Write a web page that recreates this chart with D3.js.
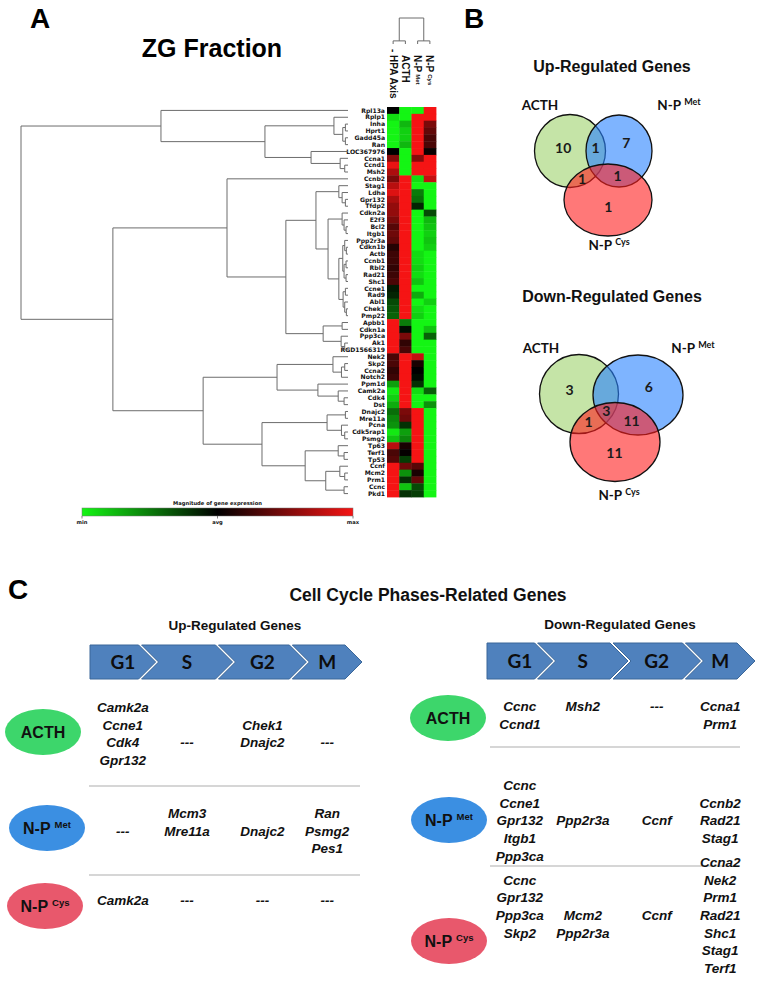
<!DOCTYPE html>
<html><head><meta charset="utf-8">
<script src="https://cdn.jsdelivr.net/npm/d3@7"></script>
<style>html,body{margin:0;padding:0;background:#fff;}svg{display:block;}</style>
</head><body>
<script>
// ---------------- DATA ----------------
const genes = ["Rpl13a","Rplp1","Inha","Hprt1","Gadd45a","Ran","LOC367976","Ccna1","Ccnd1","Msh2",
"Ccnb2","Stag1","Ldha","Gpr132","Tfdp2","Cdkn2a","E2f3","Bcl2","Itgb1","Ppp2r3a",
"Cdkn1b","Actb","Ccnb1","Rbl2","Rad21","Shc1","Ccne1","Rad9","Abl1","Chek1",
"Pmp22","Apbb1","Cdkn1a","Ppp3ca","Ak1","RGD1566319","Nek2","Skp2","Ccna2","Notch2",
"Ppm1d","Camk2a","Cdk4","Dst","Dnajc2","Mre11a","Pcna","Cdk5rap1","Psmg2","Tp63",
"Terf1","Tp53","Ccnf","Mcm2","Prm1","Ccnc","Pkd1"];
const conditions = ["- HPA Axis","ACTH","N-P Met","N-P Cys"];
// relative expression (-1 = min, 0 = avg, 1 = max)
const exprHPA = [0,-0.9,-1,-1,-1,-1,0,0.55,0.95,0.7,
0.5,0.75,0.9,0.7,0.6,0.6,0.5,0.35,0.45,0.4,
0.15,0.25,0.25,0.2,0.25,0.3,-0.1,-0.15,-0.3,-0.35,
-0.4,1,1,1,1,1,0.3,0.3,0.2,0.25,
-0.65,-0.95,-0.85,-0.7,-0.45,-0.55,-0.6,-0.95,-0.8,0.75,
0.3,0.35,1,1,1,1,1];
const exprACTH = [-1,-1,-0.75,-0.85,-0.85,-0.75,-1,-1,-1,-1,
1,1,1,1,1,1,1,1,1,1,
1,1,1,1,1,1,1,1,1,1,
1,-0.5,-0.05,0.5,0.2,0.3,1,1,1,1,
1,1,1,1,0.5,0.45,-0.2,-0.65,-0.55,0.1,
0.02,-0.25,0.45,-0.6,-0.2,-0.8,-0.2];
const exprMet = [-1,1,1,1,1,1,1,0.55,1,1,
-0.9,-1,-0.5,-0.45,-0.15,-1,-1,-1,-1,-1,
-1,-0.9,-0.9,-0.85,-0.9,-0.8,-1,-0.7,-1,-0.9,
-0.85,-1,-1,-1,-1,-1,0.8,0.1,0,-0.05,
-0.2,-0.9,-1,-1,1,1,1,1,1,1,
1,1,0.35,0.1,0.4,-0.3,-0.25];
const exprCys = [1,1,0.5,0.4,0.3,0.3,0.05,1,1,1,
0.8,-1,-1,-1,-1,-0.3,-0.75,-0.8,-0.85,-0.8,
-0.85,-1,-1,-1,-1,-1,-1,-1,-0.85,-1,
-1,-1,-0.8,-0.4,-1,-1,-1,-1,-1,-1,
-1,-0.4,-1,-0.6,-1,-1,-1,-1,-1,-1,
-1,-1,-1,-1,-1,-1,-1];
// hierarchical clustering of genes: [mergeHeight, left, right]; leaves are row indices
const rowTree =
[1.000,
  [0.572, 0,
    [0.254,
      [0.043, 1, [0.016, [0.008, 2, 3], [0.008, 4, 5]]],
      [0.113, 6, [0.024, 7, [0.010, 8, 9]]]]],
  [0.719,
    [0.370, 10,
      [0.190,
        [0.098,
          [0.028, 11, [0.018, 12, [0.008, 13, 14]]],
          [0.061,
            [0.018, 15, [0.012, 16, [0.006, 17, 18]]],
            [0.028,
              [0.016, [0.010, 19, [0.005, 20, 21]], [0.012, [0.006, 22, 23], [0.006, 24, 25]]],
              [0.015, [0.008, 26, 27], [0.010, 28, [0.005, 29, 30]]]]]],
        [0.076, [0.018, 31, 32], [0.021, 33, [0.010, 34, 35]]]]],
    [0.443,
      [0.217,
        [0.046, 36, [0.020, [0.010, 37, 38], 39]],
        [0.092, 40, [0.030, 41, [0.012, 42, 43]]]],
      [0.263,
        [0.064, [0.008, 44, 45], [0.020, 46, [0.010, 47, 48]]],
        [0.131,
          [0.030, 49, [0.012, 50, 51]],
          [0.068, [0.025, 52, [0.010, 53, 54]], [0.012, 55, 56]]]]]]];
const colTree = [1, [0.12, 0, 1], [0.12, 2, 3]];
const colorbarLabels = ["min","avg","max"];
const colorbarValues = [-1, 0, 1];

const vennSets = ["ACTH","N-P Met","N-P Cys"];
const vennRegions = ["A","M","C","AM","AC","MC","AMC"];
const vennUpCounts = [10, 7, 1, 1, 1, 1, null];
const vennDownCounts = [3, 6, 11, null, 1, 11, 3];

const phases = ["G1","S","G2","M"];
const groups = ["ACTH","N-P Met","N-P Cys"];
const upGenes = [
  [["Camk2a","Ccne1","Cdk4","Gpr132"], [], ["Chek1","Dnajc2"], []],
  [[], ["Mcm3","Mre11a"], ["Dnajc2"], ["Ran","Psmg2","Pes1"]],
  [["Camk2a"], [], [], []]];
const downGenes = [
  [["Ccnc","Ccnd1"], ["Msh2"], [], ["Ccna1","Prm1"]],
  [["Ccnc","Ccne1","Gpr132","Itgb1","Ppp3ca"], ["Ppp2r3a"], ["Ccnf"], ["Ccnb2","Rad21","Stag1"]],
  [["Ccnc","Gpr132","Ppp3ca","Skp2"], ["Mcm2","Ppp2r3a"], ["Ccnf"], ["Ccna2","Nek2","Prm1","Rad21","Shc1","Stag1","Terf1"]]];

// ---------------- DRAWING ----------------
const ARIAL = "'Liberation Sans', Arial, sans-serif";
const CAL = "Lato, 'Open Sans', sans-serif";
const svg = d3.select("body").append("svg").attr("width",757).attr("height",995);

function bold(sel, size, family){ return sel.attr("font-family", family||ARIAL).attr("font-weight","bold").attr("font-size", size); }
function labelText(sel, label, supSize, raise, gap){
  const m = label.match(/^(N-P) (Met|Cys)$/);
  if(m){ sel.append("tspan").text(m[1]);
         sel.append("tspan").attr("dx", gap).attr("dy", -raise).attr("font-size", supSize).text(m[2]); }
  else sel.text(label);
  return sel;
}

// panel letters
[["A",30,28],["B",464,28],["C",8,599]].forEach(([t,x,y]) =>
  bold(svg.append("text").attr("x",x).attr("y",y).text(t), 28));

// ---- Panel A ----
bold(svg.append("text").attr("x",212).attr("y",57).attr("text-anchor","middle").text("ZG Fraction"), 25);

const exprCols = [exprHPA, exprACTH, exprMet, exprCys];
const xCol = d3.scaleBand().domain(d3.range(conditions.length)).range([387, 436]);
const yRow = d3.scaleBand().domain(d3.range(genes.length)).range([107, 497]);
const heatColor = d3.scaleLinear().domain([-1,0,1]).range(["#14f514","#000000","#f51414"]).clamp(true);

const hm = svg.append("g");
exprCols.forEach((col, c) => {
  hm.selectAll(null).data(col).join("rect")
    .attr("x", xCol(c)).attr("y", (d,i) => yRow(i))
    .attr("width", xCol.bandwidth()+0.4).attr("height", yRow.bandwidth()+0.4)
    .attr("fill", d => heatColor(d));
});

svg.append("g").selectAll("text").data(genes).join("text")
  .attr("x", 385).attr("y", (d,i) => yRow(i) + yRow.bandwidth()/2).attr("dy","0.36em")
  .attr("text-anchor","end").attr("font-family","'DejaVu Sans', sans-serif").attr("font-weight","bold")
  .attr("font-size", 6.1).attr("fill","#111").text(d => d);

// row dendrogram
const hx = d3.scaleLinear().domain([0,1]).range([348, 21]);
function buildRow(n){
  if(typeof n === "number") return {h:0, y: yRow(n) + yRow.bandwidth()/2};
  const a = buildRow(n[1]), b = buildRow(n[2]);
  return {h:n[0], y:(a.y+b.y)/2, kids:[a,b]};
}
const rsegs = [];
(function walk(n){
  if(!n.kids) return;
  const x0 = hx(n.h);
  rsegs.push(`M${x0},${n.kids[0].y}V${n.kids[1].y}`);
  n.kids.forEach(k => { rsegs.push(`M${x0},${k.y}H${hx(k.h)}`); walk(k); });
})(buildRow(rowTree));
svg.append("path").attr("d", rsegs.join("")).attr("fill","none").attr("stroke","#6c6c6c").attr("stroke-width",1);

// column dendrogram
const hy = d3.scaleLinear().domain([0,1]).range([44, 18]);
function buildCol(n){
  if(typeof n === "number") return {h:0, x: xCol(n) + xCol.bandwidth()/2};
  const a = buildCol(n[1]), b = buildCol(n[2]);
  return {h:n[0], x:(a.x+b.x)/2, kids:[a,b]};
}
const csegs = [];
(function walk(n){
  if(!n.kids) return;
  const y0 = hy(n.h);
  csegs.push(`M${n.kids[0].x},${y0}H${n.kids[1].x}`);
  n.kids.forEach(k => { csegs.push(`M${k.x},${y0}V${hy(k.h)}`); walk(k); });
})(buildCol(colTree));
svg.append("path").attr("d", csegs.join("")).attr("fill","none").attr("stroke","#6c6c6c").attr("stroke-width",1);

// column headers (vertical)
conditions.forEach((c, i) => {
  const cx = xCol(i) + xCol.bandwidth()/2;
  const t = bold(svg.append("text").attr("transform", `translate(${cx-3.6},55) rotate(90)`), 10).attr("fill","#111");
  labelText(t, c, 6, 1.5, 2);
  if(c.startsWith("- ")) t.attr("x", -t.node().getSubStringLength(0,2));
});

// colour bar
const cb = d3.scaleLinear().domain([-1,1]).range([82, 353]);
const grad = svg.append("defs").append("linearGradient").attr("id","hmgrad");
colorbarValues.forEach(v => grad.append("stop").attr("offset", (v+1)/2).attr("stop-color", heatColor(v)));
svg.append("rect").attr("x", cb(-1)).attr("y", 508).attr("width", cb(1)-cb(-1)).attr("height", 8)
  .attr("fill","url(#hmgrad)").attr("stroke","#777").attr("stroke-width",0.5);
bold(svg.append("text").attr("x", cb(0)).attr("y", 505).attr("text-anchor","middle").text("Magnitude of gene expression"), 5.2, "'DejaVu Sans', sans-serif").attr("fill","#111");
colorbarValues.forEach((v, i) => {
  svg.append("line").attr("x1", cb(v)).attr("x2", cb(v)).attr("y1", 516).attr("y2", 518.5).attr("stroke","#333").attr("stroke-width",0.6);
  bold(svg.append("text").attr("x", cb(v)).attr("y", 524).attr("text-anchor","middle").text(colorbarLabels[i]), 5.2, "'DejaVu Sans', sans-serif").attr("fill","#111");
});

// ---- Panel B : Venn diagrams ----
const vennFill = [["rgb(150,205,95)",0.55],["rgb(40,130,255)",0.6],["rgb(255,30,30)",0.6]];
function drawVenn(title, titleY, ells, counts, labelPos){
  bold(svg.append("text").attr("x",612).attr("y",titleY).attr("text-anchor","middle").text(title), 16).attr("fill","#111");
  ells.forEach((e, i) => svg.append("ellipse").attr("cx",e[0]).attr("cy",e[1]).attr("rx",e[2]).attr("ry",e[3])
     .attr("fill", vennFill[i][0]).attr("fill-opacity", vennFill[i][1]).attr("stroke","#111").attr("stroke-width",1.3));
  // region centroids from geometry
  const keys = ["A","M","C"], acc = {};
  const x0 = d3.min(ells, e => e[0]-e[2]), x1 = d3.max(ells, e => e[0]+e[2]);
  const y0 = d3.min(ells, e => e[1]-e[3]), y1 = d3.max(ells, e => e[1]+e[3]);
  for(let x = x0; x <= x1; x += 0.5) for(let y = y0; y <= y1; y += 0.5){
    let k = "";
    ells.forEach((e, i) => { if(((x-e[0])/e[2])**2 + ((y-e[1])/e[3])**2 <= 1) k += keys[i]; });
    if(!k) continue;
    acc[k] = acc[k] || [0,0,0]; acc[k][0]+=x; acc[k][1]+=y; acc[k][2]++;
  }
  vennRegions.forEach((r, i) => {
    if(counts[i] == null || !acc[r]) return;
    bold(svg.append("text").attr("x", acc[r][0]/acc[r][2]).attr("y", acc[r][1]/acc[r][2]).attr("dy","0.36em")
      .attr("text-anchor","middle").text(counts[i]), 14, CAL).attr("fill","#1a1a1a");
  });
  vennSets.forEach((s, i) => {
    const t = bold(svg.append("text").attr("x", labelPos[i][0]).attr("y", labelPos[i][1]).attr("text-anchor","middle"), 13.5, CAL).attr("fill","#111");
    labelText(t, s, 9, 5, 3);
  });
}
drawVenn("Up-Regulated Genes", 72,
  [[570,151,35.5,36.5],[619,151,33,36],[608,200,44,36]], vennUpCounts,
  [[540,110],[679,110],[609,250]]);
drawVenn("Down-Regulated Genes", 302,
  [[579,394,39.5,39.5],[638,395,45,40],[615,442,45,39.5]], vennDownCounts,
  [[541,353],[693,353],[619,500]]);

// ---- Panel C ----
bold(svg.append("text").attr("x",428).attr("y",601).attr("text-anchor","middle").text("Cell Cycle Phases-Related Genes"), 17.5).attr("fill","#111");

const ovalFill = ["#3dd66b","#3b8fe2","#e8586c"];
const chevRel = [48, 73, 70, 52];
function drawTable(cfg){
  bold(svg.append("text").attr("x",cfg.titleX).attr("y",cfg.titleY).attr("text-anchor","middle").text(cfg.title), 13.5).attr("fill","#111");
  const d = (cfg.cy1 - cfg.cy0)/2, g = 3, mid = (cfg.cy0+cfg.cy1)/2;
  const k = (cfg.x1 - cfg.x0 - 3*g - d) / d3.sum(chevRel);
  let xs = cfg.x0; const centers = [];
  phases.forEach((p, i) => {
    const w = chevRel[i]*k;
    const pts = [[xs,cfg.cy0],[xs+w,cfg.cy0],[xs+w+d,mid],[xs+w,cfg.cy1],[xs,cfg.cy1]];
    if(i > 0) pts.push([xs+d,mid]);
    svg.append("polygon").attr("points", pts.map(q => q.join(",")).join(" "))
      .attr("fill","#4f81bd").attr("stroke","#3b6799").attr("stroke-width",1);
    const c = xs + (w+d)/2; centers.push(c);
    bold(svg.append("text").attr("x", c).attr("y", mid).attr("dy","0.36em").attr("text-anchor","middle").text(p), 19, CAL).attr("fill","#0d0d0d");
    xs += w + g;
  });
  cfg.seps.forEach(y => svg.append("line").attr("x1",cfg.sepX[0]).attr("x2",cfg.sepX[1]).attr("y1",y).attr("y2",y)
      .attr("stroke","#c8c8c8").attr("stroke-width",1.5));
  groups.forEach((gname, r) => {
    const o = cfg.ovals[r];
    svg.append("ellipse").attr("cx",o[0]).attr("cy",o[1]).attr("rx",38).attr("ry",23).attr("fill",ovalFill[r]);
    const t = bold(svg.append("text").attr("x",o[0]).attr("y",o[1]).attr("dy","0.36em").attr("text-anchor","middle"), 16).attr("fill","#111");
    labelText(t, gname, 9.5, 6, 4);
    cfg.data[r].forEach((list, c) => {
      const items = list.length ? list : ["---"];
      items.forEach((gene, j) => {
        bold(svg.append("text").attr("x", centers[c]).attr("y", cfg.rowTop[r] + (cfg.start[r][c] + j)*17.7)
          .attr("dy","0.36em").attr("text-anchor","middle").attr("font-style","italic").text(gene), 13.5).attr("fill","#111");
      });
    });
  });
}
drawTable({title:"Up-Regulated Genes", titleX:235, titleY:630, x0:90, x1:362, cy0:645, cy1:679,
  seps:[786,875], sepX:[89,360], ovals:[[43,732],[47,828],[45,906]],
  rowTop:[707,813,900], start:[[0,2,1,2],[1,0,1,0],[0,0,0,0]], data:upGenes});
drawTable({title:"Down-Regulated Genes", titleX:620, titleY:629, x0:487, x1:755, cy0:643, cy1:679,
  seps:[747,866], sepX:[490,740], ovals:[[448,718],[449,820],[449,941]],
  rowTop:[706,785,862], start:[[0,0,0,0],[0,2,2,1],[1,3,3,0]], data:downGenes});
</script>
</body></html>
